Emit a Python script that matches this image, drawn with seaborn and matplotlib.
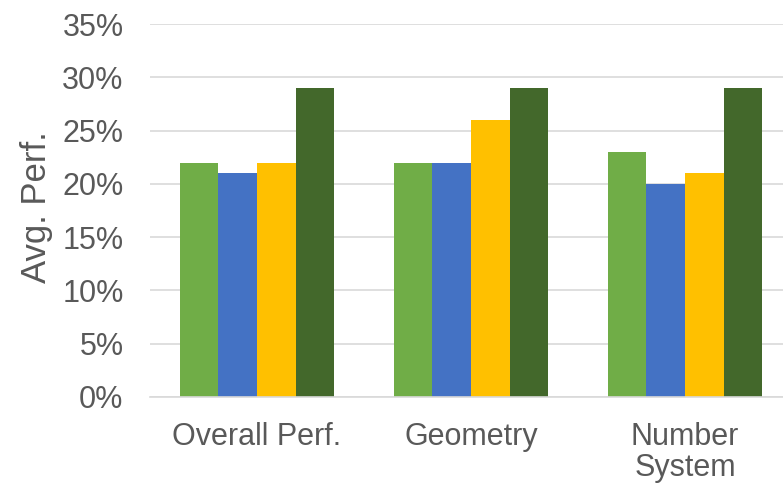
import pandas as pd
import seaborn as sns
import matplotlib.pyplot as plt
from matplotlib.ticker import PercentFormatter

# Dati
categorie = ["Overall Perf.", "Geometry", "Number\nSystem"]
serie = ["Series 1", "Series 2", "Series 3", "Series 4"]
valori = {
    "Series 1": [0.22, 0.22, 0.23],
    "Series 2": [0.21, 0.22, 0.20],
    "Series 3": [0.22, 0.26, 0.21],
    "Series 4": [0.29, 0.29, 0.29],
}
colori = ["#70AD47", "#4472C4", "#FFC000", "#43682B"]

righe = []
for s in serie:
    for c, v in zip(categorie, valori[s]):
        righe.append({"Categoria": c, "Serie": s, "Valore": v})
df = pd.DataFrame(righe)

sns.set_style("white")
plt.rcParams["font.family"] = ["Liberation Sans", "DejaVu Sans"]

fig = plt.figure(figsize=(7.83, 4.88), dpi=100)
ax = fig.add_axes([150 / 783, 91 / 488, 1 - 150 / 783, 373 / 488])

sns.barplot(data=df, x="Categoria", y="Valore", hue="Serie", order=categorie,
            hue_order=serie, palette=colori, width=0.72, saturation=1,
            linewidth=0, legend=False, ax=ax)

ax.set_ylim(0, 0.35)
ax.set_xlim(-0.5, 2.5 - 9 / 214)
ax.set_yticks([i * 0.05 for i in range(8)])
ax.yaxis.set_major_formatter(PercentFormatter(1.0, decimals=0))
ax.yaxis.grid(True, color="#D9D9D9", linewidth=1.2)
ax.set_axisbelow(True)
for lato in ["top", "right", "left"]:
    ax.spines[lato].set_visible(False)
ax.spines["bottom"].set_color("#D9D9D9")
ax.spines["bottom"].set_linewidth(1.2)

ax.tick_params(axis="both", length=0, labelsize=22, colors="#595959")
ax.tick_params(axis="y", pad=19)
ax.tick_params(axis="x", pad=18)
for t in ax.get_xticklabels():
    t.set_linespacing(1.05)
ax.set_xlabel("")
ax.set_ylabel("Avg. Perf.", fontsize=25, color="#595959")
ax.yaxis.set_label_coords(-0.153, 0.51)

fig.savefig("out.png", dpi=100)
